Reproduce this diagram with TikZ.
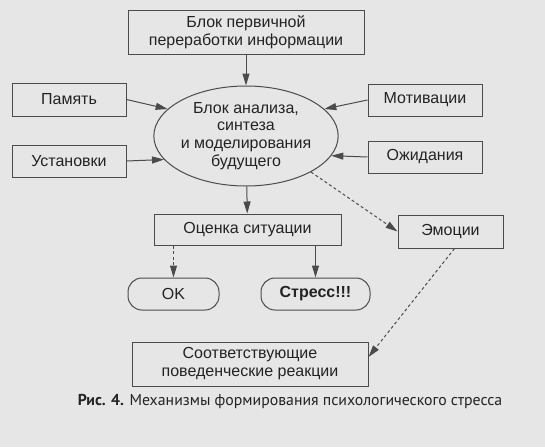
\documentclass[tikz,border=0pt]{standalone}
\usepackage{fontspec}
\setmainfont{Liberation Sans}
\newfontfamily\capfont{PT Sans}
\usetikzlibrary{arrows.meta,shapes.geometric}
\definecolor{bg}{RGB}{230,230,230}
\definecolor{ln}{RGB}{75,75,75}
\definecolor{tx}{RGB}{35,35,35}
\begin{document}
\begin{tikzpicture}[x=1pt,y=-1pt,
  every node/.style={text=tx,font=\fontsize{16}{18}\selectfont,align=center,inner sep=0pt},
  blk/.style={draw=ln,line width=1pt,minimum width=#1,rectangle},
  blk/.default=114pt,
  rnd/.style={draw=ln,line width=1pt,rounded corners=14pt},
  con/.style={draw=ln,line width=1pt,-{Triangle[length=12pt,width=7pt]}},
  dcon/.style={con,dash pattern=on 3pt off 2.5pt}]
\fill[bg] (0,0) rectangle (545,447);
\useasboundingbox (0,0) rectangle (545,447);
\node[blk=236pt,minimum height=44pt] (top) at (246,32) {Блок первичной\\переработки информации};
\node[blk,minimum height=33pt] (pam) at (69,99.5) {Память};
\node[blk,minimum height=32pt] (ust) at (69,161) {Установки};
\node[blk,minimum height=32pt] (mot) at (425,100) {Мотивации};
\node[blk,minimum height=32pt] (ozh) at (425,157) {Ожидания};
\node[draw=ln,line width=1pt,ellipse,minimum width=168pt,minimum height=100pt,font=\fontsize{16}{17.7}\selectfont] (ell) at (246,136) {Блок анализа,\\синтеза\\и моделирования\\будущего};
\node[blk=187pt,minimum height=31pt] (ocen) at (247.5,229.5) {Оценка ситуации};
\node[blk=105pt,minimum height=33pt] (emo) at (450.5,231.5) {Эмоции};
\node[rnd,minimum width=91pt,minimum height=32pt] (ok) at (173.5,294) {OK};
\node[rnd,minimum width=109pt,minimum height=32pt] (str) at (315.5,294) {\bfseries Стресс!!!};
\node[blk=236pt,minimum height=44pt] (resp) at (250,364) {Соответствующие\\поведенческие реакции};
\node[font=\capfont\fontsize{15.8}{18}\selectfont] (cap) at (290,401) {\textbf{Рис. 4.} Механизмы формирования психологического стресса};
\draw[con] (top) -- (ell);
\draw[con] (pam.east) -- (ell.161);
\draw[con] (ust.east) -- (ell.196);
\draw[con] (mot.west) -- (ell.19);
\draw[con] (ozh.west) -- (ell.347);
\draw[con] (ell) -- (ocen);
\draw[dcon] (ell.331) -- (emo.west);
\draw[dcon] (ok.north |- ocen.south) -- (ok.north);
\draw[con] (str.north |- ocen.south) -- (str.north);
\draw[dcon] ([xshift=4pt]emo.south) -- ([yshift=7pt]resp.east);
\end{tikzpicture}
\end{document}
